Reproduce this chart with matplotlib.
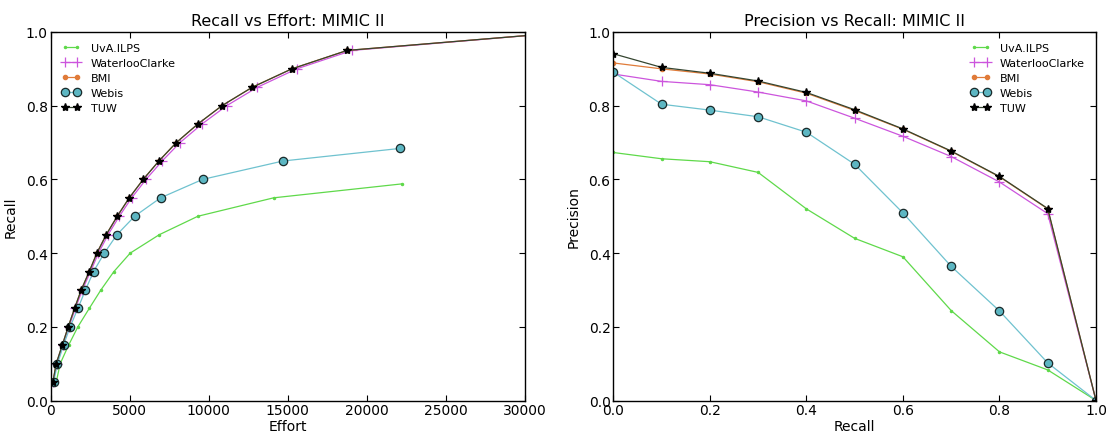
import matplotlib
matplotlib.use("Agg")
import matplotlib.pyplot as plt

# ---- Recall vs Effort data ----
recall_levels = [0.05, 0.1, 0.15, 0.2, 0.25, 0.3, 0.35, 0.4, 0.45, 0.5,
                 0.55, 0.6, 0.65, 0.7, 0.75, 0.8, 0.85, 0.9, 0.95, 1.0]

uva_effort = [350, 600, 1130, 1720, 2440, 3175, 4000, 5030, 6870, 9310, 14100, 22250]
uva_recall = [0.05, 0.1, 0.15, 0.2, 0.25, 0.3, 0.35, 0.4, 0.45, 0.5, 0.55, 0.588]

waterloo_effort = [150, 370, 760, 1150, 1560, 2000, 2520, 3020, 3630, 4340,
                   5120, 6030, 7050, 8180, 9560, 11130, 13070, 15560, 19060, 32800]
waterloo_recall = recall_levels

bmi_effort = [140, 350, 730, 1110, 1510, 1930, 2440, 2920, 3510, 4210,
              4970, 5850, 6840, 7950, 9300, 10830, 12750, 15250, 18750, 32800]
bmi_recall = recall_levels

webis_effort = [180, 430, 810, 1230, 1720, 2200, 2710, 3390, 4190, 5310,
                6950, 9610, 14700, 22080]
webis_recall = [0.05, 0.1, 0.15, 0.2, 0.25, 0.3, 0.35, 0.4, 0.45, 0.5,
                0.55, 0.6, 0.65, 0.684]

tuw_effort = [137, 348, 728, 1108, 1508, 1930, 2437, 2922, 3513, 4209,
              4968, 5854, 6846, 7947, 9295, 10832, 12747, 15253, 18750, 32800]
tuw_recall = recall_levels

# ---- Precision vs Recall data ----
pr_recall = [0.0, 0.1, 0.2, 0.3, 0.4, 0.5, 0.6, 0.7, 0.8, 0.9, 1.0]
uva_prec = [0.673, 0.656, 0.648, 0.619, 0.520, 0.440, 0.390, 0.244, 0.132, 0.083, 0.0]
waterloo_prec = [0.886, 0.866, 0.857, 0.837, 0.813, 0.766, 0.717, 0.662, 0.593, 0.507, 0.0]
bmi_prec = [0.916, 0.900, 0.886, 0.865, 0.834, 0.787, 0.736, 0.676, 0.607, 0.520, 0.0]
webis_prec = [0.891, 0.804, 0.788, 0.770, 0.728, 0.641, 0.509, 0.364, 0.243, 0.102, 0.0]
tuw_prec = [0.941, 0.904, 0.888, 0.867, 0.836, 0.789, 0.737, 0.677, 0.608, 0.521, 0.0]

run_names = ["UvA.ILPS", "WaterlooClarke", "BMI", "Webis", "TUW"]

styles = [
    dict(color="#5fd94a", marker=".", markersize=3, lw=0.9),
    dict(color="#cc55dd", marker="+", markersize=7, lw=0.9, mew=0.9),
    dict(color="#e07b39", marker=".", markersize=6, lw=0.9),
    dict(color="#6fc2cf", marker="o", markersize=6, lw=0.9,
         markerfacecolor="#5cb6c2", markeredgecolor="#1a2a2a", mew=0.9),
    dict(color="#354530", marker="*", markersize=6, lw=0.9,
         markerfacecolor="black", markeredgecolor="black"),
]

plt.rcParams["font.family"] = "DejaVu Sans"

fig = plt.figure(figsize=(11.06, 4.35), dpi=100)
W, H = 1106.0, 435.0
ax1 = fig.add_axes([50.7 / W, (H - 401.5) / H, 474.3 / W, 368.5 / H])
ax2 = fig.add_axes([613.3 / W, (H - 401.5) / H, 482.7 / W, 368.5 / H])

left_series = [(uva_effort, uva_recall), (waterloo_effort, waterloo_recall),
               (bmi_effort, bmi_recall), (webis_effort, webis_recall),
               (tuw_effort, tuw_recall)]
right_series = [uva_prec, waterloo_prec, bmi_prec, webis_prec, tuw_prec]

for name, (x, y), st in zip(run_names, left_series, styles):
    ax1.plot(x, y, label=name, **st)
for name, y, st in zip(run_names, right_series, styles):
    ax2.plot(pr_recall, y, label=name, **st)

legend_kw = dict(frameon=False, fontsize=8, numpoints=2, handlelength=1.7,
                 handletextpad=0.9, borderaxespad=0.6, labelspacing=0.45)

ax1.set_xlim(0, 30000)
ax1.set_ylim(0, 1.0)
ax1.set_xlabel("Effort", fontsize=10, labelpad=1)
ax1.set_ylabel("Recall", fontsize=10, labelpad=6)
ax1.set_title("Recall vs Effort: MIMIC II", fontsize=11.5, pad=5)
ax1.legend(loc="upper left", **legend_kw)

ax2.set_xlim(0, 1.0)
ax2.set_ylim(0, 1.0)
ax2.set_xlabel("Recall", fontsize=10, labelpad=1)
ax2.set_ylabel("Precision", fontsize=10, labelpad=6)
ax2.set_title("Precision vs Recall: MIMIC II", fontsize=11.5, pad=5)
ax2.legend(loc="upper right", **legend_kw)

for ax in (ax1, ax2):
    ax.tick_params(direction="in", top=True, right=True, length=4,
                   width=0.8, labelsize=10)
    ax.tick_params(axis="x", pad=2)
    ax.tick_params(axis="y", pad=2)
    for sp in ax.spines.values():
        sp.set_linewidth(1.0)

fig.savefig("out.png", dpi=100, facecolor="white")
